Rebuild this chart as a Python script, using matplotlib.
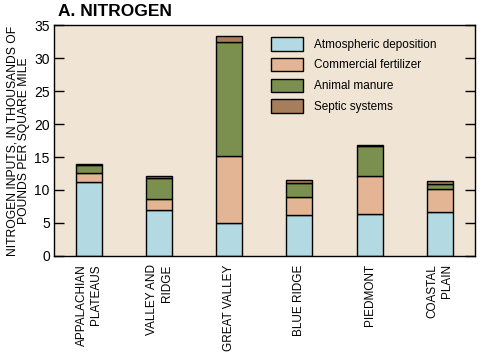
import matplotlib.pyplot as plt
import numpy as np

# datos (miles de libras por milla cuadrada)
regiones = [
    "APPALACHIAN\nPLATEAUS",
    "VALLEY AND\nRIDGE",
    "GREAT VALLEY",
    "BLUE RIDGE",
    "PIEDMONT",
    "COASTAL\nPLAIN",
]
atmosferico = [11.2, 6.9, 5.0, 6.2, 6.4, 6.7]
fertilizante = [1.4, 1.7, 10.2, 2.8, 5.7, 3.5]
estiercol = [1.25, 3.2, 17.3, 2.1, 4.5, 0.65]
septico = [0.15, 0.3, 0.8, 0.45, 0.2, 0.45]

nombres_series = [
    "Atmospheric deposition",
    "Commercial fertilizer",
    "Animal manure",
    "Septic systems",
]
colores = ["#b3dae2", "#e4b594", "#7b8f4f", "#a77e5c"]


def grafico():
    plt.rcParams["font.family"] = ["Liberation Sans", "DejaVu Sans"]
    fig = plt.figure(figsize=(4.86, 3.54), dpi=100)
    ax = fig.add_axes([0.111, 0.277, 0.866, 0.652])
    ax.set_facecolor("#f0e5d4")

    x = np.arange(len(regiones))
    base = np.zeros(len(regiones))
    for nombre, valores, color in zip(
        nombres_series, [atmosferico, fertilizante, estiercol, septico], colores
    ):
        ax.bar(
            x,
            valores,
            bottom=base,
            width=0.37,
            color=color,
            edgecolor="black",
            linewidth=1.0,
            label=nombre,
        )
        base = base + np.array(valores)

    ax.set_xlim(-0.5, 5.5)
    ax.set_ylim(0, 35)
    ax.set_yticks(range(0, 36, 5))
    ax.tick_params(
        axis="y", direction="in", length=7.5, width=1.0,
        labelsize=10, right=True, pad=3,
    )
    ax.set_xticks(x)
    ax.set_xticklabels(
        regiones, rotation=90, fontsize=8.5, ha="center", va="top",
        multialignment="right", linespacing=1.3,
    )
    ax.tick_params(axis="x", length=0, pad=6)
    for lado in ax.spines.values():
        lado.set_linewidth(1.0)

    ax.set_ylabel(
        "NITROGEN INPUTS, IN THOUSANDS OF\nPOUNDS PER SQUARE MILE",
        fontsize=8.7, labelpad=3, linespacing=0.95,
    )
    fig.text(0.119, 0.968, "A. NITROGEN", fontsize=12.5, fontweight="bold",
             va="center", ha="left")

    ax.legend(
        loc="upper left",
        bbox_to_anchor=(0.49, 0.995),
        frameon=False,
        fontsize=8.5,
        handlelength=2.7,
        handleheight=1.4,
        handletextpad=1.0,
        labelspacing=0.6,
    )

    fig.savefig("out.png", dpi=100)
    plt.close(fig)


grafico()
